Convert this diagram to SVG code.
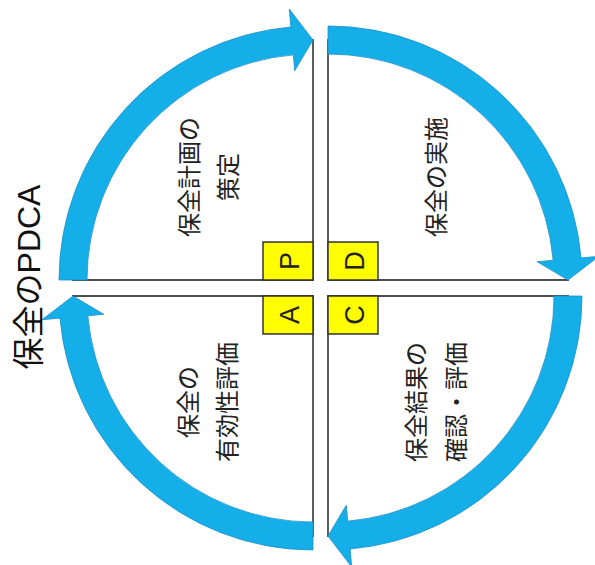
<svg xmlns="http://www.w3.org/2000/svg" width="595" height="565" viewBox="0 0 595 565">
<style>
.ln{fill:none;stroke:#4d4d4d;stroke-width:1.8}
.arr{fill:#14aee8;stroke:#1f8fc6;stroke-width:0.8;stroke-linejoin:round}
.box{fill:#ffff00;stroke:#333;stroke-width:1.5}
.let{font-family:"Liberation Sans",Arial,sans-serif;font-size:27px;fill:#222;text-anchor:middle}
.lbl{font-family:"Noto Sans CJK JP",sans-serif;font-size:24px;fill:#222;text-anchor:middle}
.ttl{font-family:"Liberation Sans","Noto Sans CJK JP",sans-serif;font-size:32px;fill:#111;text-anchor:middle}
</style>
<rect width="595" height="565" fill="#fff"/>
<g id="P">
<path class="ln" d="M313,39 L313,280 L72,280"/>
<rect class="box" x="263" y="242" width="50" height="38"/>
<text class="let" transform="translate(299,261) rotate(-90)">P</text>
<text class="lbl" transform="translate(198,177) rotate(-90)">保全計画の</text>
<text class="lbl" transform="translate(237,177) rotate(-90)">策定</text>
</g>
<g id="D">
<path class="ln" d="M328,39 L328,280 L569,280"/>
<rect class="box" x="328" y="242" width="50" height="38"/>
<text class="let" transform="translate(364,261) rotate(-90)">D</text>
<text class="lbl" transform="translate(445,177) rotate(-90)">保全の実施</text>
</g>
<g id="C">
<path class="ln" d="M569,296 L328,296 L328,537"/>
<rect class="box" x="328" y="296" width="50" height="38"/>
<text class="let" transform="translate(364,315) rotate(-90)">C</text>
<text class="lbl" transform="translate(425,402) rotate(-90)">保全結果の</text>
<text class="lbl" transform="translate(465,402) rotate(-90)">確認・評価</text>
</g>
<g id="A">
<path class="ln" d="M313,537 L313,296 L72,296"/>
<rect class="box" x="263" y="296" width="50" height="38"/>
<text class="let" transform="translate(299,315) rotate(-90)">A</text>
<text class="lbl" transform="translate(197,402) rotate(-90)">保全の</text>
<text class="lbl" transform="translate(236,402) rotate(-90)">有効性評価</text>
</g>
<g id="connectors">
<path class="arr" d="M59,280 A254,254 0 0 1 290.86,26.97 L289.29,9.04 L313,40 L294.70,70.80 L293.30,54.86 A226,226 0 0 0 87,280 Z"/>
<path class="arr" d="M328,26 A254,254 0 0 1 581.03,257.86 L598.96,256.29 L568,280 L537.20,261.70 L553.14,260.30 A226,226 0 0 0 328,54 Z"/>
<path class="arr" d="M582,296 A254,254 0 0 1 350.14,549.03 L351.71,566.96 L328,536 L346.30,505.20 L347.70,521.14 A226,226 0 0 0 554,296 Z"/>
<path class="arr" d="M313,550 A254,254 0 0 1 59.97,318.14 L42.04,319.71 L73,296 L103.80,314.30 L87.86,315.70 A226,226 0 0 0 313,522 Z"/>
</g>
<g id="title">
<text class="ttl" transform="translate(40,277) rotate(-90)">保全のPDCA</text>
</g>
</svg>
